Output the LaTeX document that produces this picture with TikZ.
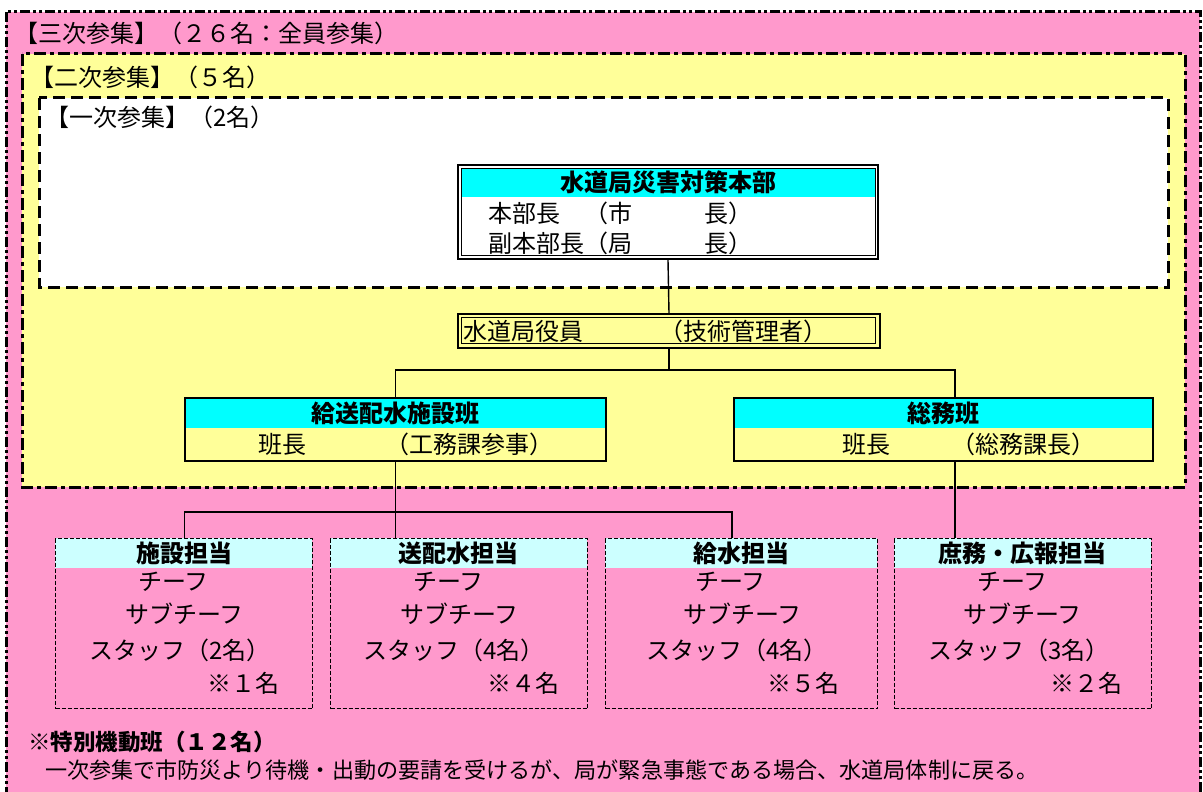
\documentclass[tikz,border=0pt]{standalone}
\usepackage{fontspec}
\setmainfont{Noto Sans CJK JP}
\definecolor{pinkc}{HTML}{FF99CC}
\definecolor{yelc}{HTML}{FFFF99}
\definecolor{cyanc}{HTML}{00FFFF}
\definecolor{lcyan}{HTML}{CCFFFF}
\tikzset{
  lvlthree/.style={line width=3pt, dash pattern=on 10pt off 3pt on 3pt off 3pt on 3pt off 3pt},
  lvltwo/.style={line width=3pt, dash pattern=on 12pt off 4pt on 4pt off 4pt},
  lvlone/.style={line width=3pt, dash pattern=on 12pt off 6pt},
  hanbox/.style={draw, line width=1.5pt, anchor=north west, inner sep=0pt, minimum height=63pt},
  tantobox/.style={draw, line width=1.4pt, dash pattern=on 4pt off 2pt, anchor=north west, inner sep=0pt, minimum height=170pt},
  txt/.style={inner sep=0pt, font=\fontsize{24}{28}\selectfont},
  txtw/.style={txt, anchor=west},
  hdr/.style={inner sep=0pt, font=\fontsize{24}{28}\selectfont\bfseries},
  ttl/.style={inner sep=0pt, anchor=west, font=\fontsize{24}{28}\selectfont},
  conn/.style={line width=1.4pt}
}
\begin{document}
\begin{tikzpicture}[x=1pt,y=-1pt]
\useasboundingbox (0,0) rectangle (1203,792);
\clip (0,0) rectangle (1203,792);
\fill[white] (0,0) rectangle (1203,792);
% level three
\fill[pinkc] (6,12) rectangle (1200,830);
\draw[lvlthree] (6,12) rectangle (1200,830);
\node[ttl] (t3) at (14,33) {【三次参集】（２６名：全員参集）};
% level two
\fill[yelc] (22,54) rectangle (1185,487);
\draw[lvltwo] (22,54) rectangle (1185,487);
\node[ttl] (t2) at (30,77) {【二次参集】（５名）};
% level one
\fill[white] (39,98) rectangle (1168,287);
\draw[lvlone] (39,98) rectangle (1168,287);
\node[ttl] (t1) at (45,117) {【一次参集】（2名）};

% HQ
\fill[cyanc] (461,168) rectangle (875,197);
\node[draw, line width=2pt, anchor=north west, inner sep=0pt, minimum width=420pt, minimum height=94pt] (hq) at (457,164) {};
\draw[line width=1pt] (461,168) rectangle (875,255);
\node[hdr] (hqT) at (668,182) {水道局災害対策本部};
\node[txtw] (hqL1) at (488,213) {本部長　（市　　　長）};
\node[txtw] (hqL2) at (488,243) {副本部長（局　　　長）};

% yakuin
\node[draw, line width=2pt, anchor=north west, inner sep=0pt, minimum width=422pt, minimum height=34pt] (yak) at (457,313) {};
\draw[line width=1pt] (461,317) rectangle (875,343);
\node[txtw] (yakL) at (463,331) {水道局役員};
\node[txtw] (yakR) at (659,331) {（技術管理者）};

% han boxes
\fill[yelc] (184,397) rectangle (605,460);
\fill[cyanc] (184,397) rectangle (605,428);
\node[hanbox, minimum width=421pt] (kyu) at (184,397) {};
\node[hdr] (kyuT) at (395,413) {給送配水施設班};
\node[txtw] (kyuL) at (258,444) {班長};
\node[txtw] (kyuR) at (385,444) {（工務課参事）};

\fill[yelc] (733,397) rectangle (1152,460);
\fill[cyanc] (733,397) rectangle (1152,428);
\node[hanbox, minimum width=419pt] (som) at (733,397) {};
\node[hdr] (somT) at (943,413) {総務班};
\node[txtw] (somL) at (842,444) {班長};
\node[txtw] (somR) at (951,444) {（総務課長）};

% tanto boxes
\fill[lcyan] (55,538) rectangle (312,568);
\node[tantobox, minimum width=257pt] (shi) at (55,538) {};
\node[hdr] (shiT) at (184,553) {施設担当};
\node[txtw] (shi1) at (138,582) {チーフ};
\node[txtw] (shi2) at (125,614) {サブチーフ};
\node[txtw] (shi3) at (89,650) {スタッフ（2名）};
\node[txtw] (shi4) at (207,683) {※１名};

\fill[lcyan] (330,538) rectangle (587,568);
\node[tantobox, minimum width=257pt] (soh) at (330,538) {};
\node[hdr] (sohT) at (458,553) {送配水担当};
\node[txtw] (soh1) at (413,582) {チーフ};
\node[txtw] (soh2) at (400,614) {サブチーフ};
\node[txtw] (soh3) at (363,650) {スタッフ（4名）};
\node[txtw] (soh4) at (487,683) {※４名};

\fill[lcyan] (605,538) rectangle (877,568);
\node[tantobox, minimum width=272pt] (kys) at (605,538) {};
\node[hdr] (kysT) at (741,553) {給水担当};
\node[txtw] (kys1) at (695,582) {チーフ};
\node[txtw] (kys2) at (683,614) {サブチーフ};
\node[txtw] (kys3) at (646,650) {スタッフ（4名）};
\node[txtw] (kys4) at (767,683) {※５名};

\fill[lcyan] (894,538) rectangle (1151,568);
\node[tantobox, minimum width=257pt] (sho) at (894,538) {};
\node[hdr] (shoT) at (1022,553) {庶務・広報担当};
\node[txtw] (sho1) at (977,582) {チーフ};
\node[txtw] (sho2) at (963,614) {サブチーフ};
\node[txtw] (sho3) at (928,650) {スタッフ（3名）};
\node[txtw] (sho4) at (1050,683) {※２名};

% connectors
\coordinate (bus1) at (0,370);
\coordinate (bus2) at (0,512);
\coordinate (cs) at (955,0);
\coordinate (ck) at (732,0);
\draw[conn] (hq.south) -- (yak.north);
\draw[conn] (yak.south) -- (yak.south|-bus1);
\draw[conn] (kyu.north) -- (kyu.north|-bus1) -- (cs|-bus1) -- (cs|-som.north);
\draw[conn] (kyu.south) -- (kyu.south|-soh.north);
\draw[conn] (shi.north) -- (shi.north|-bus2) -- (ck|-bus2) -- (ck|-kys.north);
\draw[conn] (cs|-som.south) -- (cs|-sho.north);

% note
\node[inner sep=0pt, anchor=west, font=\fontsize{22.5}{25}\selectfont\bfseries] (noteT) at (28,742) {※特別機動班（１２名）};
\node[inner sep=0pt, anchor=west, font=\fontsize{22.1}{25}\selectfont] (noteL) at (45,770) {一次参集で市防災より待機・出動の要請を受けるが、局が緊急事態である場合、水道局体制に戻る。};
\end{tikzpicture}
\end{document}
